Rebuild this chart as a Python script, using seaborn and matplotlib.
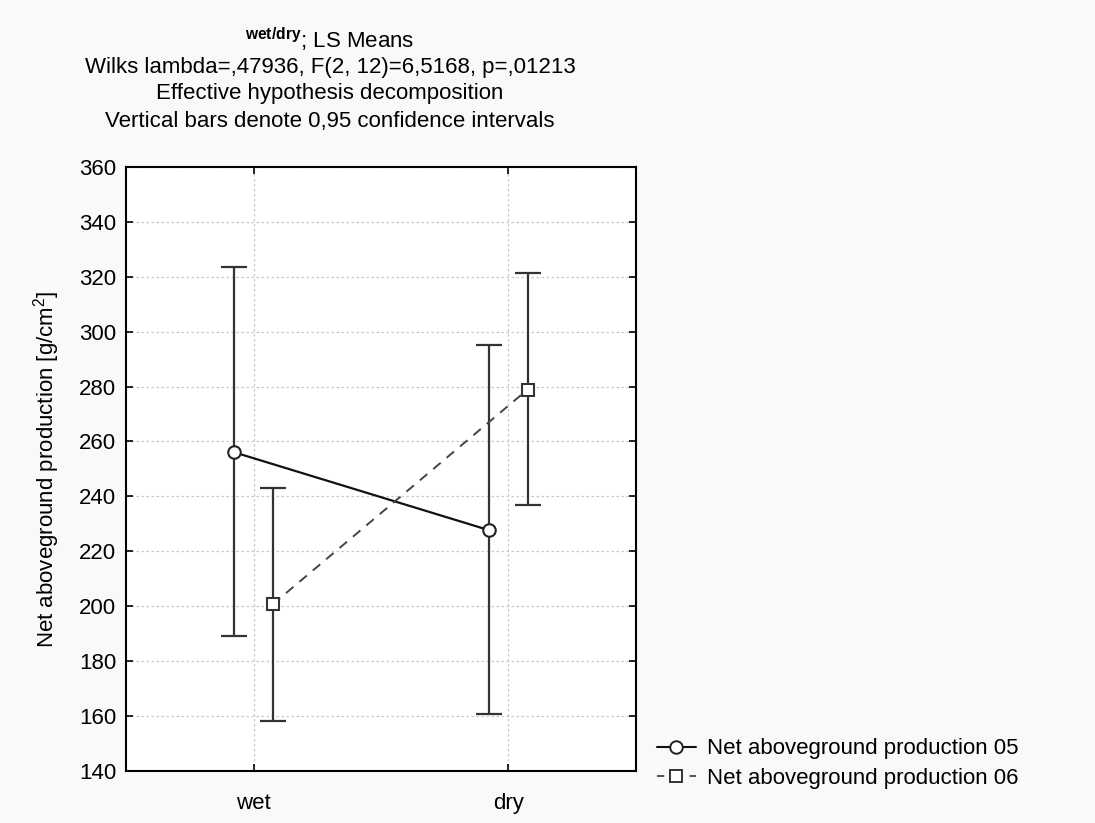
import numpy as np
import pandas as pd
import matplotlib
matplotlib.use("Agg")
import matplotlib.pyplot as plt
import seaborn as sns
from matplotlib.lines import Line2D

# Dados (LS Means e IC 95%)
grupos = ["wet", "dry"]
media_05 = [256.0, 227.6]
inf_05 = [188.9, 160.7]
sup_05 = [323.5, 295.2]
media_06 = [200.6, 278.9]
inf_06 = [158.2, 236.9]
sup_06 = [243.0, 321.4]
series = ["Net aboveground production 05", "Net aboveground production 06"]

sns.set_theme(style="white")
plt.rcParams["font.family"] = ["Liberation Sans", "DejaVu Sans"]
plt.rcParams["text.color"] = "black"
plt.rcParams["axes.labelcolor"] = "black"
plt.rcParams["mathtext.fontset"] = "custom"
plt.rcParams["mathtext.rm"] = "Liberation Sans"
plt.rcParams["mathtext.bf"] = "Liberation Sans:bold"
plt.rcParams["mathtext.it"] = "Liberation Sans:italic"

FS = 16

fig = plt.figure(figsize=(10.95, 8.23), dpi=100, facecolor="#f9f9f9")
ax = fig.add_axes([0.1151, 0.0636, 0.4657, 0.7335])
ax.set_facecolor("white")

pos = np.arange(len(grupos))
desloc = 0.075

df = pd.DataFrame({
    "x": np.concatenate([pos - desloc, pos + desloc]),
    "media": media_05 + media_06,
    "serie": [series[0]] * 2 + [series[1]] * 2,
})

# barras de erro
for dx, m, lo, hi in [(-desloc, media_05, inf_05, sup_05), (desloc, media_06, inf_06, sup_06)]:
    m = np.array(m)
    ax.errorbar(pos + dx, m, yerr=[m - np.array(lo), np.array(hi) - m], fmt="none",
                ecolor="#333333", elinewidth=1.6, capsize=9.5, capthick=1.6, zorder=2)

sns.lineplot(data=df[df.serie == series[0]], x="x", y="media", ax=ax, color="#111111",
             linewidth=1.6, marker="o", markersize=9, markerfacecolor="white",
             markeredgecolor="#222222", markeredgewidth=1.5, zorder=3, legend=False)
sns.lineplot(data=df[df.serie == series[1]], x="x", y="media", ax=ax, color="#444444",
             linewidth=1.4, dashes=(5, 4), marker="s", markersize=8.5, markerfacecolor="white",
             markeredgecolor="#333333", markeredgewidth=1.5, zorder=3, legend=False)

ax.set_xlim(-0.5, 1.5)
ax.set_ylim(140, 360)
ax.set_xticks(pos)
ax.set_xticklabels(grupos)
ax.set_yticks(np.arange(140, 361, 20))
ax.grid(True, linestyle=(0, (2, 2)), color="#c8c8c8", linewidth=0.9)
ax.tick_params(direction="in", length=5, width=1.2, colors="black", labelsize=FS,
               top=True, right=True, left=True, bottom=True, pad=7)
ax.tick_params(axis="x", pad=16)
for s in ax.spines.values():
    s.set_color("black")
    s.set_linewidth(1.5)
ax.set_xlabel("")
ax.set_ylabel("Net aboveground production [g/cm$^2$]", fontsize=FS, labelpad=12)

# títulos
cx = 330 / 1095
fig.text(cx, 1 - 40 / 823, r"$^{\mathbf{wet/dry}}$; LS Means", ha="center", va="center", fontsize=FS)
fig.text(cx, 1 - 67 / 823, "Wilks lambda=,47936, F(2, 12)=6,5168, p=,01213", ha="center", va="center", fontsize=FS)
fig.text(cx, 1 - 94 / 823, "Effective hypothesis decomposition", ha="center", va="center", fontsize=FS)
fig.text(cx, 1 - 121 / 823, "Vertical bars denote 0,95 confidence intervals", ha="center", va="center", fontsize=FS)

handles = [
    Line2D([], [], color="#111111", lw=1.5, marker="o", markersize=9, markerfacecolor="white",
           markeredgecolor="#222222", markeredgewidth=1.4),
    Line2D([], [], color="#444444", lw=1.3, dashes=(4, 14), marker="s", markersize=8.5,
           markerfacecolor="white", markeredgecolor="#333333", markeredgewidth=1.4),
]
fig.legend(handles, series, loc="lower left", bbox_to_anchor=(648 / 1095, 1 - 798 / 823),
           frameon=False, fontsize=FS, handlelength=1.75, handletextpad=0.5,
           labelspacing=0.39, borderaxespad=0)

fig.savefig("out.png", dpi=100, facecolor=fig.get_facecolor())
